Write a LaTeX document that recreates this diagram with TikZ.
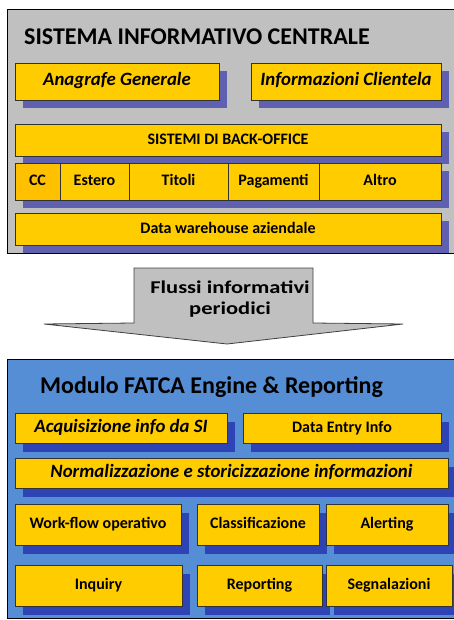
\documentclass[tikz,border=0pt]{standalone}
\usepackage{fontspec}
\setmainfont{Carlito}
\newfontfamily\flussifont[FakeStretch=1.25]{Carlito}
\usetikzlibrary{shadows}
\definecolor{panelgray}{HTML}{C0C0C0}
\definecolor{panelblue}{HTML}{558ED5}
\definecolor{boxyellow}{HTML}{FFCC00}
\definecolor{ccorange}{HTML}{FFC000}
\definecolor{shadowlilac}{HTML}{6060B0}
\definecolor{shadowblue}{HTML}{2E44B4}
\tikzset{panel/.style={draw=black,line width=0.8pt}}
\tikzset{ybox/.style={draw=black!80,line width=0.8pt,fill=boxyellow,inner sep=0pt,
  text height=0.9em,text depth=0.04em,font=\bfseries\fontsize{16}{18}\selectfont}}
\tikzset{sibox/.style={ybox,drop shadow={shadow xshift=8pt,shadow yshift=-8pt,fill=shadowlilac,opacity=1}}}
\tikzset{fmbox/.style={ybox,drop shadow={shadow xshift=8pt,shadow yshift=-9pt,fill=shadowblue,opacity=1}}}
\tikzset{itbox/.style={font=\bfseries\itshape\fontsize{18.8}{20}\selectfont}}
\tikzset{titlenode/.style={anchor=west,inner sep=0pt,font=\bfseries\fontsize{24}{26}\selectfont}}
\tikzset{flussitext/.style={inner sep=0pt,font=\flussifont\bfseries\fontsize{18}{20}\selectfont}}

\begin{document}
\begin{tikzpicture}[x=1pt,y=-1pt]
	\useasboundingbox (0,0) rectangle (454,620);

	% Sistema informativo centrale
	\draw[panel,fill=panelgray] (7,9) rectangle (460,253);
	\node[titlenode] (sictitle) at (24,37) {SISTEMA INFORMATIVO CENTRALE};

	\node[sibox,itbox,minimum width=204pt,minimum height=37pt] (anag) at (117,81.5) {Anagrafe Generale};
	\node[sibox,itbox,minimum width=190pt,minimum height=37pt] (infocli) at (346,81.5) {Informazioni Clientela};
	\node[sibox,minimum width=426pt,minimum height=32pt] (backoffice) at (228,140) {SISTEMI DI BACK-OFFICE};

	% back-office cells
	\node[sibox,fill=ccorange,minimum width=45pt,minimum height=37pt] (cc) at (37.5,181.5) {CC};
	\node[sibox,minimum width=69pt,minimum height=37pt] (estero) at (94.5,181.5) {Estero};
	\node[sibox,minimum width=99pt,minimum height=37pt] (titoli) at (178.5,181.5) {Titoli};
	\node[sibox,minimum width=91pt,minimum height=37pt] (pagamenti) at (273.5,181.5) {Pagamenti};
	\node[sibox,minimum width=122pt,minimum height=37pt] (altro) at (380,181.5) {Altro};

	\begin{scope}
		\clip (7,9) rectangle (460,253);
		\node[sibox,minimum width=426pt,minimum height=32pt] (dwh) at (228,229) {Data warehouse aziendale};
	\end{scope}

	% Flussi
	\draw[draw=black!75,line width=0.8pt,fill=panelgray] (134,268) -- (313,268) -- (313,323) -- (403,324)
		-- (227,344) -- (44,324) -- (134,323) -- cycle;
	\node[flussitext] (flussi) at (230,287) {Flussi informativi};
	\node[flussitext] (periodici) at (230,310) {periodici};

	% Modulo FATCA
	\draw[panel,fill=panelblue] (7,359) rectangle (460,618);
	\node[titlenode] (fatcatitle) at (40,387) {Modulo FATCA Engine \& Reporting};

	\node[fmbox,itbox,minimum width=212pt,minimum height=30pt] (acq) at (121,428) {Acquisizione info da SI};
	\node[fmbox,minimum width=198pt,minimum height=30pt] (dataentry) at (342,428) {Data Entry Info};
	\node[fmbox,itbox,minimum width=433pt,minimum height=30pt] (norm) at (231.5,473) {Normalizzazione e storicizzazione informazioni};

	\node[fmbox,minimum width=166pt,minimum height=41pt] (workflow) at (98,524.5) {Work-flow operativo};
	\node[fmbox,minimum width=122pt,minimum height=41pt] (classif) at (258,524.5) {Classificazione};
	\node[fmbox,minimum width=122pt,minimum height=41pt] (alert) at (387,524.5) {Alerting};

	\node[fmbox,minimum width=167pt,minimum height=41pt] (inquiry) at (98.5,585.5) {Inquiry};
	\node[fmbox,minimum width=125pt,minimum height=41pt] (report) at (259.5,585.5) {Reporting};
	\node[fmbox,minimum width=126pt,minimum height=41pt] (segnal) at (389,585.5) {Segnalazioni};
\end{tikzpicture}
\end{document}
